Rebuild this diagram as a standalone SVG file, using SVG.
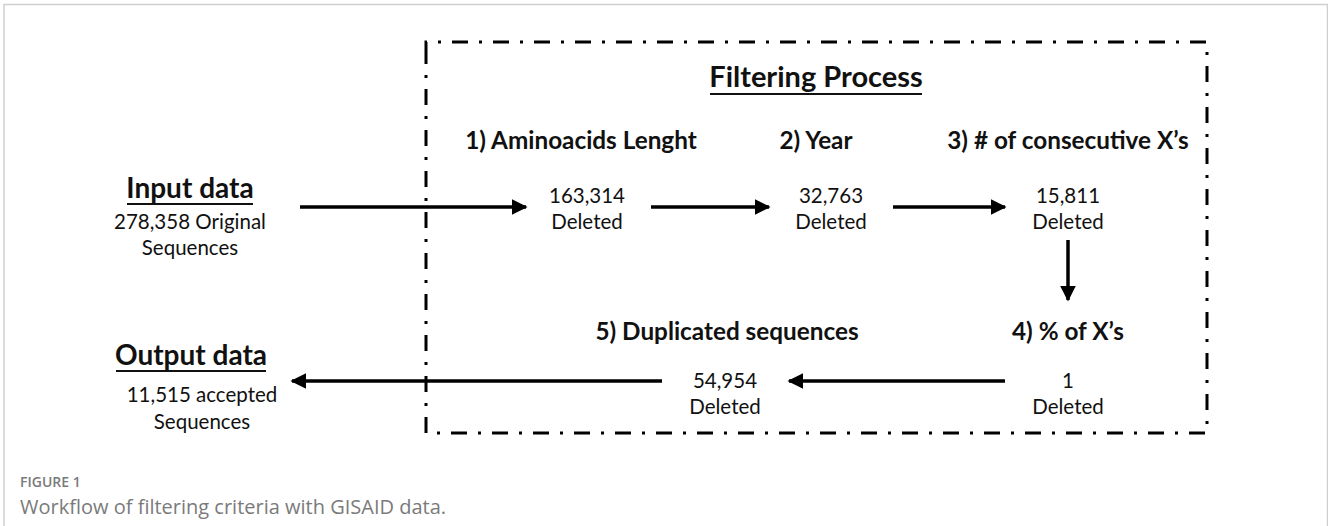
<svg xmlns="http://www.w3.org/2000/svg" width="1328" height="526" viewBox="0 0 1328 526">
<style>
.t{font-family:Lato,"Open Sans","Liberation Sans",sans-serif;fill:#111;text-anchor:middle}
.h{font-weight:700;font-size:28px}
.f{font-weight:700;font-size:29px}
.s{font-weight:700;font-size:24.3px}
.v{font-weight:400;font-size:20.5px}
.ul{stroke:#111;stroke-width:2}
.ar{stroke:#000;stroke-width:3.5;fill:none;marker-end:url(#ah)}
.cap{font-family:"Open Sans","Liberation Sans",sans-serif;fill:#7a7a7a}
</style>
<defs>
<marker id="ah" viewBox="0 0 10 10" refX="9" refY="5" markerWidth="4.5" markerHeight="4.5" orient="auto" markerUnits="strokeWidth">
<path d="M0,0 L10,5 L0,10 z" fill="#000"/>
</marker>
</defs>
<rect width="1328" height="526" fill="#fff"/>
<path d="M4,526 V4.5 H1327.5 V526" fill="none" stroke="#cfcfcf" stroke-width="1.5"/>
<g id="filtering-box">
<path d="M426,57 V42 H1207 V433 H426 Z" fill="none" stroke="#000" stroke-width="3" stroke-dasharray="16 11 3 11"/>
<text class="t f" x="816" y="87">Filtering Process</text>
<line class="ul" x1="710" y1="94" x2="922" y2="94"/>
</g>
<g id="input">
<text class="t h" x="190" y="198">Input data</text>
<line class="ul" x1="127" y1="204" x2="253" y2="204"/>
<text class="t v" x="190" y="229">278,358 Original</text>
<text class="t v" x="190" y="255">Sequences</text>
</g>
<g id="step1">
<text class="t s" x="581" y="149">1) Aminoacids Lenght</text>
<text class="t v" x="587" y="203">163,314</text>
<text class="t v" x="587" y="229">Deleted</text>
</g>
<g id="step2">
<text class="t s" x="816" y="149">2) Year</text>
<text class="t v" x="831" y="203">32,763</text>
<text class="t v" x="831" y="229">Deleted</text>
</g>
<g id="step3">
<text class="t s" x="1068" y="149">3) # of consecutive X’s</text>
<text class="t v" x="1068" y="203">15,811</text>
<text class="t v" x="1068" y="229">Deleted</text>
</g>
<g id="step4">
<text class="t s" x="1068" y="340">4) % of X’s</text>
<text class="t v" x="1068" y="388">1</text>
<text class="t v" x="1068" y="414">Deleted</text>
</g>
<g id="step5">
<text class="t s" x="727" y="340">5) Duplicated sequences</text>
<text class="t v" x="725" y="388">54,954</text>
<text class="t v" x="725" y="414">Deleted</text>
</g>
<g id="output">
<text class="t h" x="191" y="365">Output data</text>
<line class="ul" x1="116" y1="371" x2="266" y2="371"/>
<text class="t v" x="202" y="402">11,515 accepted</text>
<text class="t v" x="202" y="429">Sequences</text>
</g>
<g id="connectors">
<line class="ar" x1="300" y1="207" x2="526" y2="207"/>
<line class="ar" x1="651" y1="207" x2="769" y2="207"/>
<line class="ar" x1="893" y1="207" x2="1005" y2="207"/>
<line class="ar" x1="1068" y1="240" x2="1068" y2="300"/>
<line class="ar" x1="1005" y1="381" x2="789" y2="381"/>
<line class="ar" x1="662" y1="381" x2="292" y2="381"/>
</g>
<g id="caption">
<text class="cap" x="20" y="487" font-size="14" font-weight="600">FIGURE 1</text>
<text class="cap" x="20" y="514" font-size="20">Workflow of filtering criteria with GISAID data.</text>
</g>
</svg>
